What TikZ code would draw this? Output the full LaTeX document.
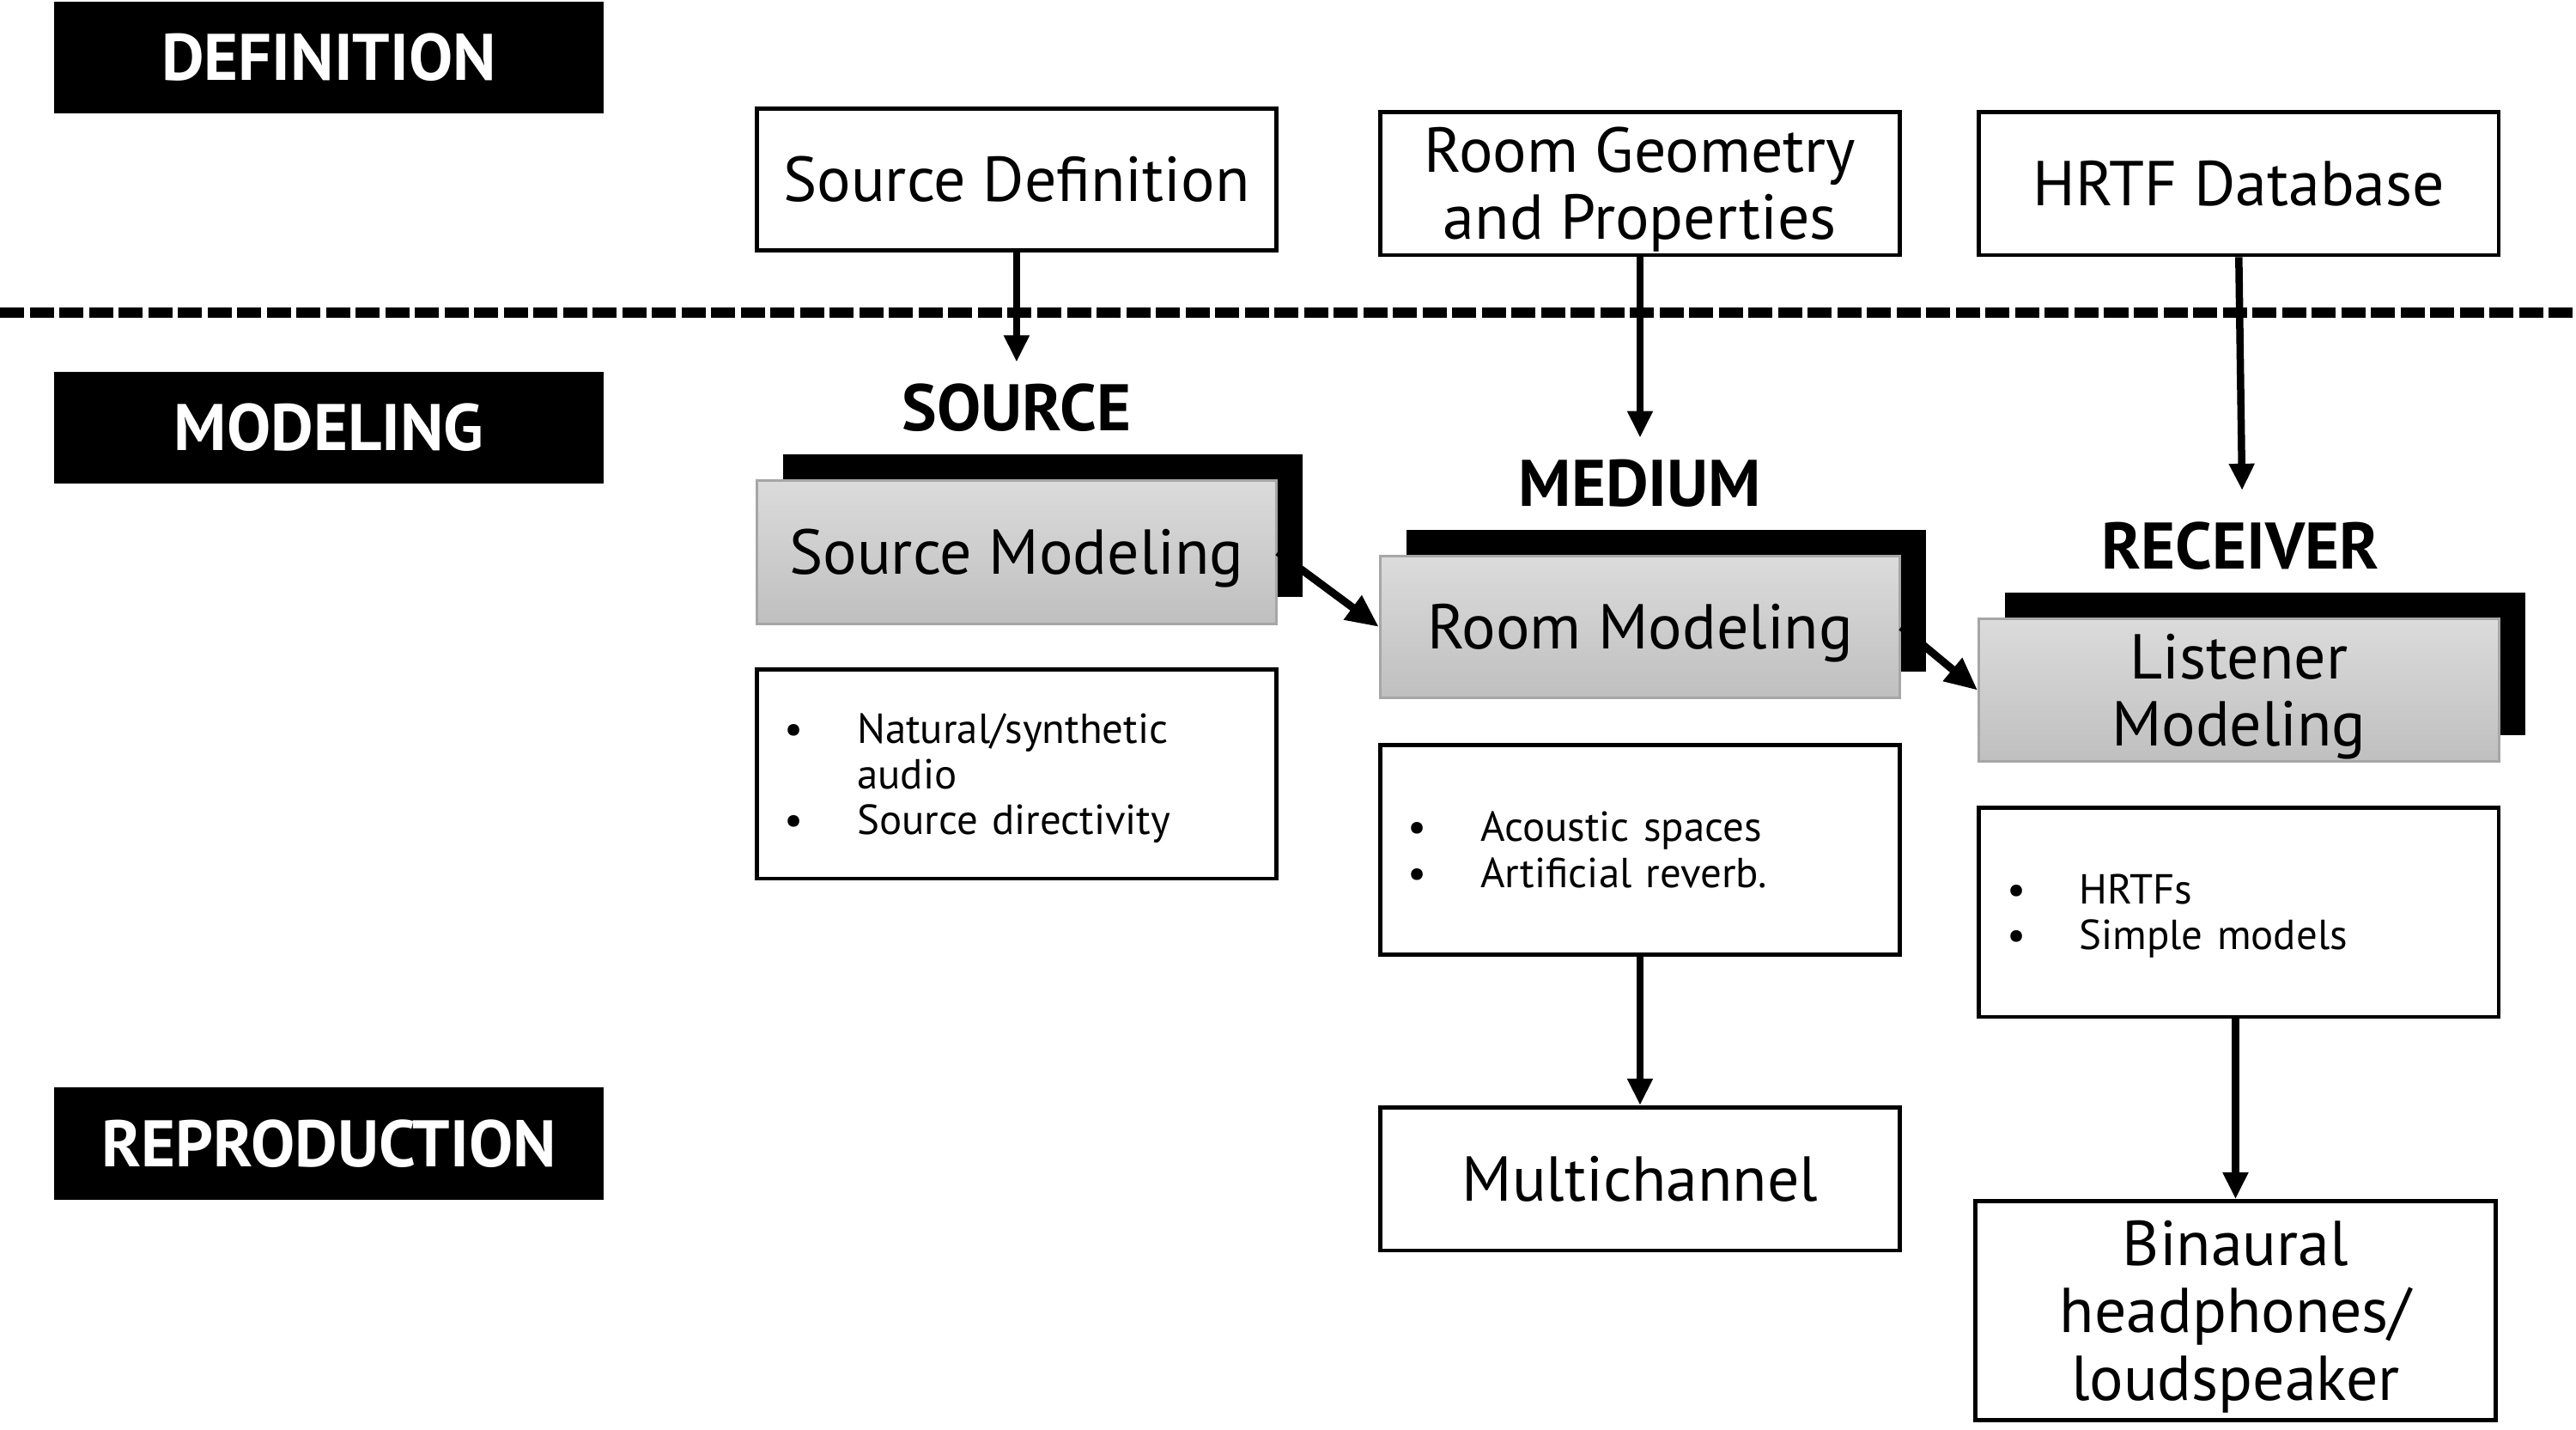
\documentclass[tikz,border=0pt]{standalone}
\usepackage{fontspec}
\setmainfont{PT Sans}
\usetikzlibrary{arrows.meta,shadows}
\newcommand\pxu{0.019157cm}
\newcommand\bigfont{\fontsize{21}{22.3}\selectfont}
\newcommand\headfont{\fontsize{21.8}{24}\selectfont\bfseries}
\newcommand\listfont{\fontsize{13.9}{15.1}\selectfont}
\newcommand\bitem[1]{\makebox[0.843cm][l]{\textbullet}#1}
\begin{document}
\begin{tikzpicture}[x=\pxu,y=-\pxu,
  blackbox/.style={fill=black,text=white,font=\headfont,inner sep=0pt,
     minimum width=334*\pxu,minimum height=68*\pxu,text height=15.3pt,text depth=0pt},
  plainbox/.style={draw=black,line width=0.048cm,fill=white,inner sep=0pt,font=\bigfont,align=center,
     minimum width=316*\pxu,minimum height=87*\pxu},
  greybox/.style={draw=black!35,line width=0.03cm,top color=black!14,bottom color=black!25,
     inner sep=0pt,font=\bigfont,align=center,minimum width=316*\pxu,minimum height=87*\pxu,
     drop shadow={shadow xshift=0.3065cm,shadow yshift=0.3065cm,opacity=1,fill=black}},
  listbox/.style={draw=black,line width=0.048cm,fill=white,inner sep=0pt,
     font=\listfont,align=left,text width=5.4cm,
     minimum width=316*\pxu,minimum height=127*\pxu,text height=9.7pt},
  one/.style={text height=14.7pt,text depth=0pt},
  two/.style={text height=37pt,text depth=0pt},
  three/.style={text height=59.3pt,text depth=0pt},
  lbl/.style={font=\headfont,inner sep=0pt},
  arr/.style={line width=0.085cm,-{Triangle[length=0.31cm,width=0.28cm]}},
  diagarr/.style={line width=0.09cm,-{Triangle[length=0.38cm,width=0.33cm]}},
  dashline/.style={line width=0.115cm,dash pattern=on 0.28cm off 0.065cm}
]
\useasboundingbox (0,0) rectangle (1566,868.6);

% left stage labels
\node[blackbox] (def) at (200,35) {DEFINITION};
\node[blackbox] (mod) at (200,260) {MODELING};
\node[blackbox] (rep) at (200,695) {REPRODUCTION};

% definition boxes
\node[plainbox,one,minimum height=86*\pxu] (sd) at (618,109) {Source Definition};
\node[plainbox,two] (rg) at (997,111.5) {Room Geometry\\and Properties};
\node[plainbox,one] (hd) at (1361,111.5) {HRTF Database};

% dashed separator
\coordinate (dl) at (0,190);
\coordinate (dr) at (1566,190);
\draw[dashline] (dl) -- (dr);

% category labels
\node[lbl] (src) at (618,248) {SOURCE};
\node[lbl] (med) at (997,294) {MEDIUM};
\node[lbl] (rcv) at (1362,332) {RECEIVER};
\coordinate (srcin) at (618,220);
\coordinate (medin) at (997,266);
\coordinate (rcvin) at (1363,298);

% modeling boxes
\node[greybox,one] (sm) at (618,335.5) {Source Modeling};
\node[greybox,one,minimum height=86*\pxu] (rm) at (997,381) {Room Modeling};
\node[greybox,two] (lm) at (1361,419.5) {Listener\\Modeling};

% lists
\node[listbox,text depth=30.2pt] (l1) at (618,470.5) {\bitem{Natural/synthetic}\\\hspace*{0.843cm}audio\\\bitem{Source directivity}};
\node[listbox,text depth=15.1pt] (l2) at (997,516.5) {\bitem{Acoustic spaces}\\\bitem{Artificial reverb.}};
\node[listbox,text depth=15.1pt] (l3) at (1361,554.5) {\bitem{HRTFs}\\\bitem{Simple models}};

% reproduction boxes
\node[plainbox,one] (mc) at (997,716.5) {Multichannel};
\node[plainbox,three,minimum height=133*\pxu] (bi) at (1359,796.5) {Binaural\\headphones/\\loudspeaker};

% connectors
\draw[arr] (sd.south) -- (srcin);
\draw[arr] (rg.south) -- (medin);
\draw[arr] (hd.south) -- (rcvin);
\draw[diagarr] (sm.east) -- (rm.west);
\draw[diagarr] (rm.east) -- (lm.west);
\draw[arr] (l2.south) -- (mc.north);
\draw[arr] (bi.north |- l3.south) -- (bi.north);
\end{tikzpicture}
\end{document}
